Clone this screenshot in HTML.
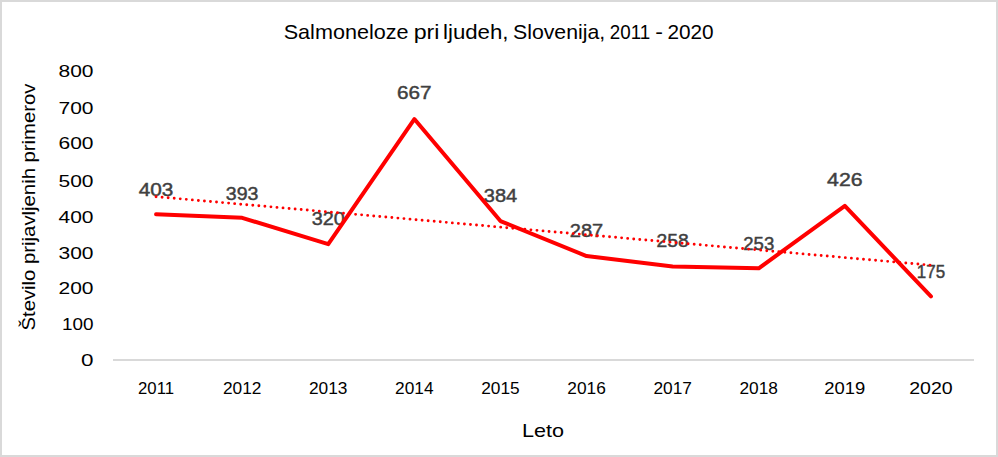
<!DOCTYPE html>
<html><head><meta charset="utf-8"><style>
html,body{margin:0;padding:0;background:#fff;}
body{width:998px;height:457px;overflow:hidden;}
svg{display:block;font-family:"Liberation Sans",sans-serif;}
</style></head><body>
<svg width="998" height="457" viewBox="0 0 998 457">
<rect x="1" y="1" width="996" height="455" fill="#fff" stroke="#d9d9d9" stroke-width="2"/>
<g font-size="21" fill="#000"><text x="283.70" y="39" textLength="124.90" lengthAdjust="spacingAndGlyphs">Salmoneloze</text><text x="413.70" y="39" textLength="25.80" lengthAdjust="spacingAndGlyphs">pri</text><text x="443.00" y="39" textLength="65.50" lengthAdjust="spacingAndGlyphs">ljudeh,</text><text x="513.00" y="39" textLength="92.20" lengthAdjust="spacingAndGlyphs">Slovenija,</text><text x="609.80" y="39" textLength="40.40" lengthAdjust="spacingAndGlyphs">2011</text><text x="655.20" y="39" textLength="7.70" lengthAdjust="spacingAndGlyphs">-</text><text x="667.40" y="39" textLength="46.20" lengthAdjust="spacingAndGlyphs">2020</text></g>
<text transform="translate(35,330.5) rotate(-90)" x="0" y="0" font-size="19" fill="#000" textLength="247" lengthAdjust="spacingAndGlyphs">Število prijavljenih primerov</text>
<g font-size="17" text-anchor="end" fill="#000">
<text x="93.5" y="366.45" textLength="12.5" lengthAdjust="spacingAndGlyphs">0</text>
<text x="93.5" y="330.35" textLength="31.5" lengthAdjust="spacingAndGlyphs">100</text>
<text x="93.5" y="294.25" textLength="35" lengthAdjust="spacingAndGlyphs">200</text>
<text x="93.5" y="258.82" textLength="35" lengthAdjust="spacingAndGlyphs">300</text>
<text x="93.5" y="222.72" textLength="35" lengthAdjust="spacingAndGlyphs">400</text>
<text x="93.5" y="186.62" textLength="35" lengthAdjust="spacingAndGlyphs">500</text>
<text x="93.5" y="149.30" textLength="35" lengthAdjust="spacingAndGlyphs">600</text>
<text x="93.5" y="114.42" textLength="35" lengthAdjust="spacingAndGlyphs">700</text>
<text x="93.5" y="77.10" textLength="35" lengthAdjust="spacingAndGlyphs">800</text>
</g>
<line x1="113" y1="360" x2="974" y2="360" stroke="#d9d9d9" stroke-width="2"/>
<g font-size="17" text-anchor="middle" fill="#000">
<text x="156.05" y="393.6" textLength="36" lengthAdjust="spacingAndGlyphs">2011</text>
<text x="242.15" y="393.6" textLength="38.5" lengthAdjust="spacingAndGlyphs">2012</text>
<text x="328.25" y="393.6" textLength="38.5" lengthAdjust="spacingAndGlyphs">2013</text>
<text x="414.35" y="393.6" textLength="38.5" lengthAdjust="spacingAndGlyphs">2014</text>
<text x="500.45" y="393.6" textLength="38.5" lengthAdjust="spacingAndGlyphs">2015</text>
<text x="586.55" y="393.6" textLength="38.5" lengthAdjust="spacingAndGlyphs">2016</text>
<text x="672.65" y="393.6" textLength="38.5" lengthAdjust="spacingAndGlyphs">2017</text>
<text x="758.75" y="393.6" textLength="38.5" lengthAdjust="spacingAndGlyphs">2018</text>
<text x="844.85" y="393.6" textLength="41" lengthAdjust="spacingAndGlyphs">2019</text>
<text x="930.95" y="393.6" textLength="43.5" lengthAdjust="spacingAndGlyphs">2020</text>
</g>
<text x="522" y="436.7" font-size="18.5" fill="#000" textLength="42" lengthAdjust="spacingAndGlyphs">Leto</text>
<g font-size="18" font-weight="normal" text-anchor="middle" fill="#404040" stroke="#404040" stroke-width="0.45">
<text x="156.05" y="196.00" textLength="34.6" lengthAdjust="spacingAndGlyphs">403</text>
<text x="242.15" y="200.28" textLength="32.6" lengthAdjust="spacingAndGlyphs">393</text>
<text x="328.25" y="225.30" textLength="33.1" lengthAdjust="spacingAndGlyphs">320</text>
<text x="414.35" y="98.93" textLength="34.5" lengthAdjust="spacingAndGlyphs">667</text>
<text x="500.45" y="202.31" textLength="33.4" lengthAdjust="spacingAndGlyphs">384</text>
<text x="586.55" y="236.66" textLength="33.4" lengthAdjust="spacingAndGlyphs">287</text>
<text x="672.65" y="247.13" textLength="32.2" lengthAdjust="spacingAndGlyphs">258</text>
<text x="758.75" y="250.15" textLength="31" lengthAdjust="spacingAndGlyphs">253</text>
<text x="844.85" y="186.48" textLength="35.5" lengthAdjust="spacingAndGlyphs">426</text>
<text x="930.95" y="278.31" textLength="28.3" lengthAdjust="spacingAndGlyphs">175</text>
</g>
<polyline points="156.05,214.22 242.15,217.82 328.25,244.14 414.35,119.05 500.45,221.07 586.55,256.04 672.65,266.49 758.75,268.29 844.85,205.93 930.95,296.41" fill="none" stroke="#ff0000" stroke-width="4" stroke-linejoin="round" stroke-linecap="round"/>
<line x1="156.05" y1="196.7" x2="930.95" y2="265.2" stroke="#ff0000" stroke-width="2.9" stroke-linecap="round" stroke-dasharray="0 6.07"/>
</svg>
</body></html>
